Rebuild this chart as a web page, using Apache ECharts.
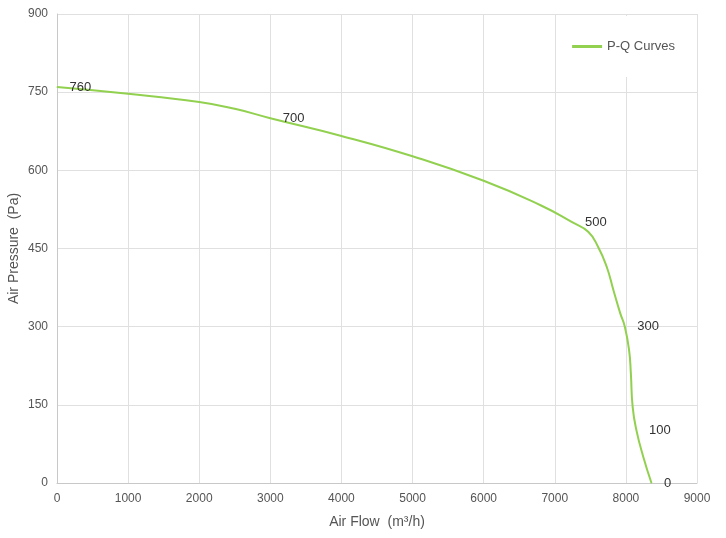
<!DOCTYPE html>
<html>
<head>
<meta charset="utf-8">
<script src="https://cdn.jsdelivr.net/npm/echarts@6/dist/echarts.min.js"></script>
<style>
  html, body { margin: 0; padding: 0; background: #fff; }
  #main { width: 726px; height: 538px; }
</style>
</head>
<body>
<div id="main"></div>
<script>
// 风量 / 风压
var airFlow = [0, 1000, 2000, 2500, 3000, 4000, 5000, 6000, 6800, 7250, 7470, 7610, 7730, 7825, 7920, 7985, 8045, 8070, 8095, 8150, 8245, 8360];
var airPressure = [760, 747, 731, 718, 700, 666, 627, 580, 533, 500, 482, 453, 415, 370, 326, 300, 255, 210, 146, 100, 50, 0];
// points that carry a value label
var labelled = [0, 4, 9, 15, 19, 21];

var xTicks = { min: 0, max: 9000, interval: 1000 };
var yTicks = { min: 0, max: 900, interval: 150 };

var green = '#92D050';
var font = 'Liberation Sans, Arial, sans-serif';

var chart = echarts.init(document.getElementById('main'));

var seriesData = airFlow.map(function (x, i) {
  var item = { value: [x, airPressure[i]] };
  if (labelled.indexOf(i) >= 0) {
    item.label = { show: true };
  }
  return item;
});

var option = {
  backgroundColor: '#fff',
  animation: false,
  grid: { left: 57, right: 29, top: 14, bottom: 55, outerBoundsMode: 'none' },
  legend: {
    right: 36,
    top: 16,
    itemWidth: 30,
    itemHeight: 3,
    itemGap: 4,
    padding: [24, 15, 24, 15],
    backgroundColor: '#fff',
    icon: 'rect',
    textStyle: { color: '#555', fontSize: 13, fontFamily: font },
    data: ['P-Q Curves']
  },
  xAxis: {
    type: 'value',
    min: xTicks.min,
    max: xTicks.max,
    interval: xTicks.interval,
    name: 'Air Flow  (m³/h)',
    nameLocation: 'middle',
    nameGap: 32,
    nameTextStyle: { color: '#555', fontSize: 14, fontFamily: font },
    axisLine: { lineStyle: { color: '#c8c8c8' } },
    axisTick: { show: false },
    axisLabel: { color: '#555', fontSize: 12, margin: 10, fontFamily: font, formatter: function (v) { return String(v); } },
    splitLine: { lineStyle: { color: '#e0e0e0' } }
  },
  yAxis: {
    type: 'value',
    min: yTicks.min,
    max: yTicks.max,
    interval: yTicks.interval,
    name: 'Air Pressure  (Pa)',
    nameLocation: 'middle',
    nameGap: 36,
    nameMoveOverlap: false,
    nameTextStyle: { color: '#555', fontSize: 14, fontFamily: font },
    axisLine: { show: true, lineStyle: { color: '#c8c8c8' } },
    axisTick: { show: false },
    axisLabel: { color: '#555', fontSize: 12, margin: 9, fontFamily: font },
    splitLine: { lineStyle: { color: '#e0e0e0' } }
  },
  series: [
    {
      name: 'P-Q Curves',
      type: 'line',
      smooth: 0.5,
      showSymbol: true,
      symbol: 'circle',
      symbolSize: 1,
      itemStyle: { color: green },
      lineStyle: { color: green, width: 2 },
      label: {
        show: false,
        position: 'right',
        distance: 12,
        color: '#333',
        fontSize: 13,
        fontFamily: font,
        formatter: function (p) { return p.value[1]; }
      },
      data: seriesData
    }
  ]
};

chart.setOption(option);
</script>
</body>
</html>
